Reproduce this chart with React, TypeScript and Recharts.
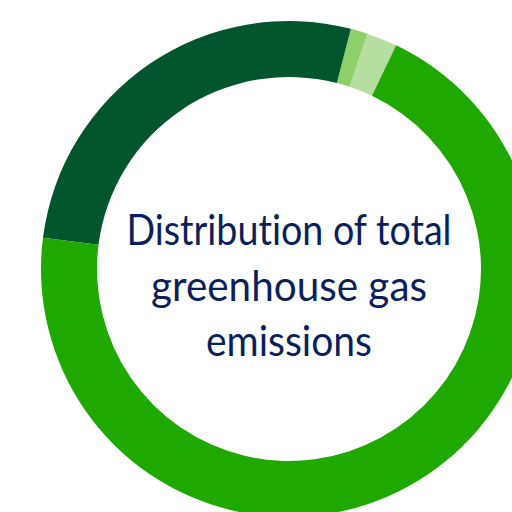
import React from "react";
import { PieChart, Pie, Cell, Label } from "recharts";

const segmentNames = ["Segment D", "Segment C", "Segment B", "Segment A"];
const segmentValues = [2.0, 1.1, 27.0, 69.9];
const segmentColors = ["#b6dea0", "#8ecf6b", "#02552c", "#1ea800"];

const titleLines = ["Distribution of total", "greenhouse gas", "emissions"];
const titleWidths = [325, 276, 166];

const CX = 289;
const CY = 269;

const data = segmentNames.map((name, i) => ({ name, value: segmentValues[i] }));

const CenterTitle = () => (
  <text
    x={CX}
    textAnchor="middle"
    fill="#0b1f5c"
    style={{
      fontFamily: "Lato, sans-serif",
      fontWeight: 400,
      fontSize: 43,
      fontVariantLigatures: "none",
    }}
  >
    {titleLines.map((line, i) => (
      <tspan
        key={line}
        x={CX}
        y={CY - 24 + i * 55.5}
        textLength={titleWidths[i]}
        lengthAdjust="spacingAndGlyphs"
      >
        {line}
      </tspan>
    ))}
  </text>
);

export default function App() {
  return (
    <div style={{ position: "fixed", left: 0, top: 0, width: 512, height: 512, background: "#fff" }}>
      <PieChart width={512} height={512} margin={{ top: 0, right: 0, bottom: 0, left: 0 }}>
        <Pie
          data={data}
          dataKey="value"
          nameKey="name"
          cx={CX}
          cy={CY}
          innerRadius={192}
          outerRadius={248}
          startAngle={64.4}
          endAngle={424.4}
          stroke="none"
          isAnimationActive={false}
        >
          {data.map((d, i) => (
            <Cell key={d.name} fill={segmentColors[i]} />
          ))}
          <Label position="center" content={<CenterTitle />} />
        </Pie>
      </PieChart>
    </div>
  );
}
